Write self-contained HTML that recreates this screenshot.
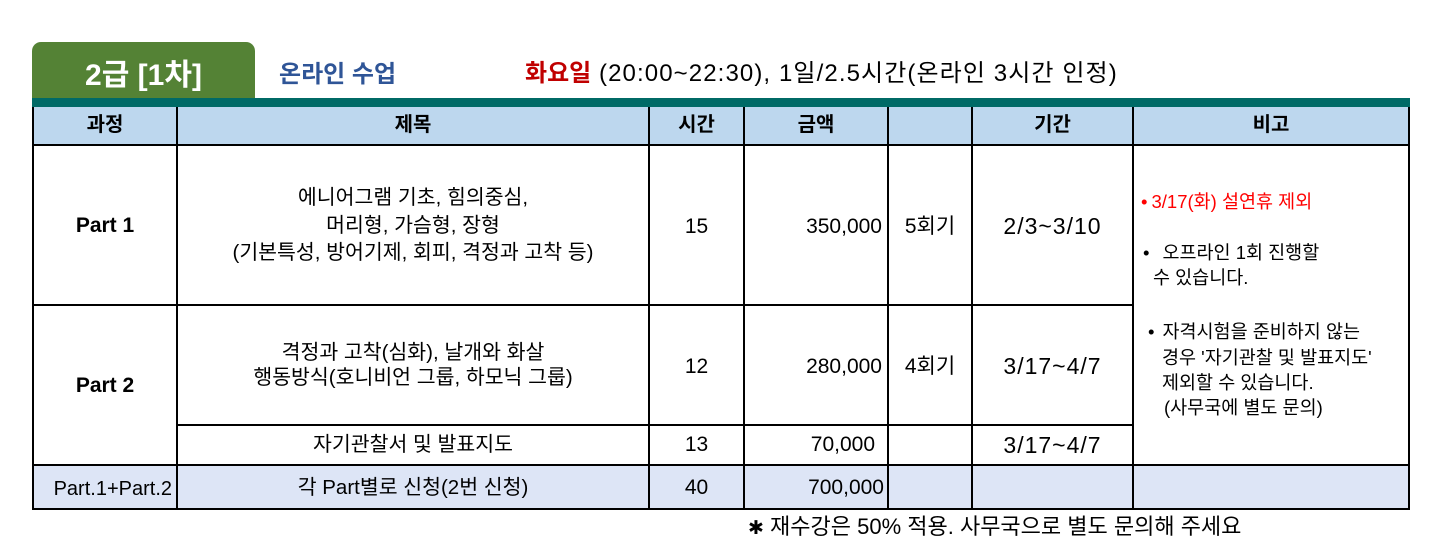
<!DOCTYPE html>
<html><head><meta charset="utf-8">
<style>
html,body{margin:0;padding:0;background:#fff;}
body{width:1444px;height:559px;position:relative;overflow:hidden;font-family:"Liberation Sans","Noto Sans CJK KR",sans-serif;color:#000;}
.a{position:absolute;}
.h{position:absolute;background:#000;height:2px;}
.v{position:absolute;background:#000;width:2px;}
.t{position:absolute;white-space:nowrap;height:30px;line-height:30px;text-align:center;}
.r{position:absolute;white-space:nowrap;height:30px;line-height:30px;text-align:right;}
.l{position:absolute;white-space:nowrap;height:30px;line-height:30px;text-align:left;}
.hd{font-weight:bold;font-size:20px;}
.ti{font-size:20.5px;}
.num{font-size:21px;}
.dt{font-size:23px;letter-spacing:1px;}
.rm{font-size:18.5px;}
</style></head><body>

<!-- green tab -->
<div class="a" style="left:32px;top:42px;width:223px;height:57px;background:#548235;border-radius:9px 9px 0 0;"></div>
<div class="t" style="left:32px;width:223px;top:61px;font-size:30px;font-weight:bold;color:#fff;">2급 [1차]</div>
<div class="l" style="left:279px;top:60px;font-size:24px;font-weight:bold;color:#2F5597;">온라인 수업</div>
<div class="l" style="left:525px;top:59px;font-size:24px;"><span style="color:#C00000;font-weight:bold;">화요일</span><span style="letter-spacing:1.1px;"> (20:00~22:30), 1일/2.5시간(온라인 3시간 인정)</span></div>

<!-- teal bar -->
<div class="a" style="left:32px;top:98px;width:1378px;height:9px;background:#006A66;"></div>
<!-- header bg -->
<div class="a" style="left:33px;top:107px;width:1376px;height:38px;background:#BDD7EE;"></div>
<!-- last row bg -->
<div class="a" style="left:33px;top:465px;width:1376px;height:44px;background:#DDE5F6;"></div>

<!-- horizontal lines -->
<div class="h" style="left:33px;top:144px;width:1377px;"></div>
<div class="h" style="left:33px;top:304px;width:1101px;"></div>
<div class="h" style="left:177px;top:424px;width:957px;"></div>
<div class="h" style="left:33px;top:464px;width:1377px;"></div>
<div class="h" style="left:33px;top:508px;width:1377px;"></div>

<!-- vertical lines -->
<div class="v" style="left:32px;top:107px;height:403px;"></div>
<div class="v" style="left:176px;top:107px;height:403px;"></div>
<div class="v" style="left:648px;top:107px;height:403px;"></div>
<div class="v" style="left:743px;top:107px;height:403px;"></div>
<div class="v" style="left:887px;top:107px;height:403px;"></div>
<div class="v" style="left:971px;top:107px;height:403px;"></div>
<div class="v" style="left:1132px;top:107px;height:403px;"></div>
<div class="v" style="left:1408px;top:107px;height:403px;"></div>

<!-- header text -->
<div class="t hd" style="left:33px;width:144px;top:110px;">과정</div>
<div class="t hd" style="left:177px;width:472px;top:110px;">제목</div>
<div class="t hd" style="left:649px;width:95px;top:110px;">시간</div>
<div class="t hd" style="left:744px;width:144px;top:110px;">금액</div>
<div class="t hd" style="left:972px;width:161px;top:110px;">기간</div>
<div class="t hd" style="left:1133px;width:276px;top:110px;">비고</div>

<!-- row 1 -->
<div class="t" style="left:33px;width:144px;top:211px;font-size:21px;font-weight:bold;">Part 1</div>
<div class="t ti" style="left:177px;width:472px;top:183px;">에니어그램 기초, 힘의중심,</div>
<div class="t ti" style="left:177px;width:472px;top:211px;">머리형, 가슴형, 장형</div>
<div class="t ti" style="left:177px;width:472px;top:238px;">(기본특성, 방어기제, 회피, 격정과 고착 등)</div>
<div class="t num" style="left:649px;width:95px;top:212px;">15</div>
<div class="r num" style="left:744px;width:138px;top:212px;">350,000</div>
<div class="t" style="left:888px;width:84px;top:212px;font-size:21px;">5회기</div>
<div class="t dt" style="left:972px;width:161px;top:211px;">2/3~3/10</div>

<!-- row 2 -->
<div class="t" style="left:33px;width:144px;top:371px;font-size:21px;font-weight:bold;">Part 2</div>
<div class="t ti" style="left:177px;width:472px;top:338px;">격정과 고착(심화), 날개와 화살</div>
<div class="t ti" style="left:177px;width:472px;top:363px;">행동방식(호니비언 그룹, 하모닉 그룹)</div>
<div class="t num" style="left:649px;width:95px;top:352px;">12</div>
<div class="r num" style="left:744px;width:138px;top:352px;">280,000</div>
<div class="t" style="left:888px;width:84px;top:352px;font-size:21px;">4회기</div>
<div class="t dt" style="left:972px;width:161px;top:351px;">3/17~4/7</div>

<!-- sub row -->
<div class="t ti" style="left:177px;width:472px;top:430px;">자기관찰서 및 발표지도</div>
<div class="t num" style="left:649px;width:95px;top:430px;">13</div>
<div class="r num" style="left:744px;width:131px;top:430px;">70,000</div>
<div class="t dt" style="left:972px;width:161px;top:430px;">3/17~4/7</div>

<!-- last row -->
<div class="r" style="left:33px;width:139px;top:474px;font-size:20px;">Part.1+Part.2</div>
<div class="t ti" style="left:177px;width:472px;top:473px;">각 Part별로 신청(2번 신청)</div>
<div class="t num" style="left:649px;width:95px;top:473px;">40</div>
<div class="r num" style="left:744px;width:140px;top:473px;">700,000</div>

<!-- remarks -->
<div class="l rm" style="left:1141px;top:187px;color:#FF0000;">•<span style="margin-left:4px;">3/17(화) 설연휴 제외</span></div>
<div class="l rm" style="left:1143px;top:238px;">•<span style="margin-left:13px;">오프라인 1회 진행할</span></div>
<div class="l rm" style="left:1153px;top:263px;">수 있습니다.</div>
<div class="l rm" style="left:1148px;top:317px;">•<span style="margin-left:8px;">자격시험을 준비하지 않는</span></div>
<div class="l rm" style="left:1162px;top:343px;">경우 '자기관찰 및 발표지도'</div>
<div class="l rm" style="left:1162px;top:368px;">제외할 수 있습니다.</div>
<div class="l rm" style="left:1164px;top:393px;">(사무국에 별도 문의)</div>

<!-- footnote -->
<div class="l" style="left:748px;top:512px;font-size:22px;"><span style="font-family:'DejaVu Sans',sans-serif;font-weight:bold;font-size:19px;">✱</span> 재수강은 50% 적용. 사무국으로 별도 문의해 주세요</div>

</body></html>
